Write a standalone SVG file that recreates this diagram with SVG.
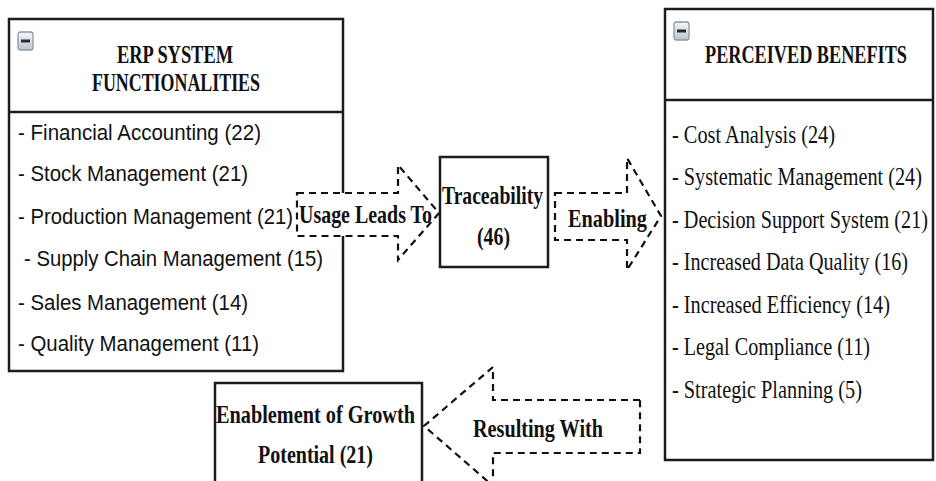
<svg xmlns="http://www.w3.org/2000/svg" width="936" height="481" viewBox="0 0 936 481">
  <defs>
    <linearGradient id="ig" x1="0" y1="0" x2="0" y2="1">
      <stop offset="0" stop-color="#f4f7fa"/>
      <stop offset="1" stop-color="#b9c4cf"/>
    </linearGradient>
    <g id="minus">
      <rect x="0" y="0" width="15" height="18" rx="2.5" fill="url(#ig)" stroke="#8c98a5" stroke-width="1.3"/>
      <rect x="3" y="7.5" width="9" height="3" fill="#2a2a2a"/>
    </g>
  </defs>
  <style>
    .box{fill:#fff;stroke:#1c1c1c;stroke-width:2.5}
    .div{stroke:#1c1c1c;stroke-width:2.5}
    .arrow{fill:#fff;stroke:#111;stroke-width:2.2;stroke-dasharray:7 5}
    .tb{font-family:"Liberation Serif","Times New Roman",serif;font-weight:bold;font-size:25px;fill:#111}
    .tr{font-family:"Liberation Serif","Times New Roman",serif;font-size:25px;fill:#111}
    .ar{font-family:"Liberation Sans",Arial,sans-serif;font-size:22px;fill:#111}
  </style>
  <rect width="936" height="481" fill="#fff"/>

  <g id="erp-system-functionalities">
    <rect class="box" x="9" y="19" width="334" height="352"/>
    <line class="div" x1="9" y1="112" x2="343" y2="112"/>
    <use href="#minus" x="18" y="32"/>
    <text class="tb" transform="translate(117,63) scale(0.75,1)" textLength="154.7" lengthAdjust="spacingAndGlyphs">ERP SYSTEM</text>
    <text class="tb" transform="translate(92,91) scale(0.75,1)" textLength="224" lengthAdjust="spacingAndGlyphs">FUNCTIONALITIES</text>
    <text class="ar" transform="translate(18,140) scale(0.9,1)" textLength="270" lengthAdjust="spacingAndGlyphs">- Financial Accounting (22)</text>
    <text class="ar" transform="translate(18,181) scale(0.9,1)" textLength="255.6" lengthAdjust="spacingAndGlyphs">- Stock Management (21)</text>
    <text class="ar" transform="translate(18,224) scale(0.9,1)" textLength="305.6" lengthAdjust="spacingAndGlyphs">- Production Management (21)</text>
    <text class="ar" transform="translate(24,266) scale(0.9,1)" textLength="332.2" lengthAdjust="spacingAndGlyphs">- Supply Chain Management (15)</text>
    <text class="ar" transform="translate(18,310) scale(0.9,1)" textLength="255.6" lengthAdjust="spacingAndGlyphs">- Sales Management (14)</text>
    <text class="ar" transform="translate(18,351) scale(0.9,1)" textLength="267.8" lengthAdjust="spacingAndGlyphs">- Quality Management (11)</text>
  </g>

  <g id="perceived-benefits">
    <rect class="box" x="665" y="9" width="268" height="451"/>
    <line class="div" x1="665" y1="100" x2="933" y2="100"/>
    <use href="#minus" x="674" y="22"/>
    <text class="tb" transform="translate(705,63) scale(0.75,1)" textLength="269.3" lengthAdjust="spacingAndGlyphs">PERCEIVED BENEFITS</text>
    <text class="tr" transform="translate(672,143) scale(0.75,1)" textLength="217.3" lengthAdjust="spacingAndGlyphs">- Cost Analysis (24)</text>
    <text class="tr" transform="translate(672,185) scale(0.75,1)" textLength="333.3" lengthAdjust="spacingAndGlyphs">- Systematic Management (24)</text>
    <text class="tr" transform="translate(672,228) scale(0.75,1)" textLength="341.3" lengthAdjust="spacingAndGlyphs">- Decision Support System (21)</text>
    <text class="tr" transform="translate(672,270) scale(0.75,1)" textLength="314.7" lengthAdjust="spacingAndGlyphs">- Increased Data Quality (16)</text>
    <text class="tr" transform="translate(672,313) scale(0.75,1)" textLength="290.7" lengthAdjust="spacingAndGlyphs">- Increased Efficiency (14)</text>
    <text class="tr" transform="translate(672,355) scale(0.75,1)" textLength="264" lengthAdjust="spacingAndGlyphs">- Legal Compliance (11)</text>
    <text class="tr" transform="translate(672,398) scale(0.75,1)" textLength="253.3" lengthAdjust="spacingAndGlyphs">- Strategic Planning (5)</text>
  </g>

  <g id="traceability">
    <rect class="box" x="440" y="157" width="108" height="110"/>
    <text class="tb" transform="translate(442,204) scale(0.75,1)" textLength="134.7" lengthAdjust="spacingAndGlyphs">Traceability</text>
    <text class="tb" transform="translate(477,245) scale(0.75,1)" textLength="44" lengthAdjust="spacingAndGlyphs">(46)</text>
  </g>

  <g id="growth-potential">
    <rect class="box" x="215" y="383" width="207" height="102"/>
    <text class="tb" transform="translate(216,423) scale(0.75,1)" textLength="265.3" lengthAdjust="spacingAndGlyphs">Enablement of Growth</text>
    <text class="tb" transform="translate(258,463) scale(0.75,1)" textLength="153.3" lengthAdjust="spacingAndGlyphs">Potential (21)</text>
  </g>

  <g id="connectors">
    <g id="usage-leads-to">
      <path class="arrow" d="M297,193 H398 V165 L439,213 L398,260 V236 H297 Z"/>
      <text class="tb" transform="translate(299,223) scale(0.75,1)" textLength="177.3" lengthAdjust="spacingAndGlyphs">Usage Leads To</text>
    </g>
    <g id="enabling">
      <path class="arrow" d="M555,193 H627 V158 L661,216 L627,270 V240 H555 Z"/>
      <text class="tb" transform="translate(568,227) scale(0.75,1)" textLength="105.3" lengthAdjust="spacingAndGlyphs">Enabling</text>
    </g>
    <g id="resulting-with">
      <path class="arrow" d="M640,400 H493 V367 L424,426 L493,486 V453 H640 Z"/>
      <text class="tb" transform="translate(473,437) scale(0.75,1)" textLength="173.3" lengthAdjust="spacingAndGlyphs">Resulting With</text>
    </g>
  </g>
</svg>
